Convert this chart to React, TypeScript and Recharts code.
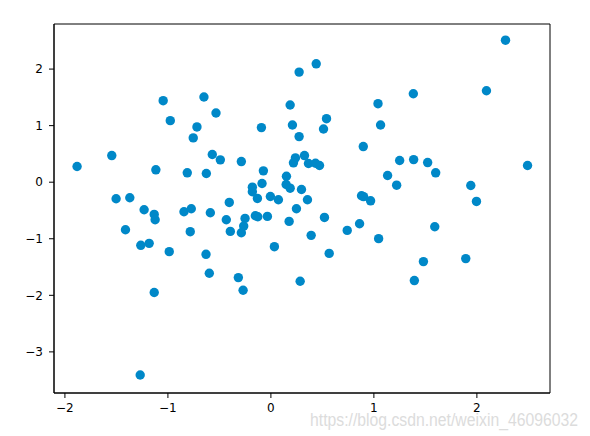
import { ScatterChart, Scatter, XAxis, YAxis, ReferenceArea } from 'recharts';

// values (x, y)
const xs = [
  -1.882, -1.545, -1.046, -0.65, -0.533, -0.977, -0.718, -0.754, -0.569, -0.491,
  -1.117, -0.812, -0.627, -1.503, -1.37, -1.231, -1.133, -1.124, -1.412, -0.844,
  -0.773, -0.588, -0.783, -1.263, -1.182, -0.987, -0.63, -0.598, -1.133, -1.269,
  0.44, 0.274, 0.187, 1.04, 1.065, -0.092, 0.209, 0.54, 0.511, 0.274,
  0.897, -0.287, -0.073, 0.238, 0.219, 0.326, 0.365, 0.433, 0.472, 0.151,
  -0.086, 0.148, 0.187, -0.18, -0.18, -0.131, -0.005, 0.073, 0.297, 0.355,
  0.88, 0.9, 0.968, -0.404, -0.433, -0.251, -0.264, -0.287, -0.394, -0.151,
  -0.127, -0.034, 0.248, 0.177, 0.52, 0.391, 0.741, 0.861, 1.046, 0.034,
  0.566, -0.316, -0.27, 0.284, 2.278, 2.093, 1.383, 1.25, 1.386, 1.522,
  1.6, 1.133, 1.221, 2.492, 1.941, 1.996, 1.591, 1.481, 1.892, 1.393,
];
const ys = [
  0.277, 0.471, 1.441, 1.506, 1.224, 1.088, 0.977, 0.783, 0.489, 0.395,
  0.219, 0.166, 0.153, -0.293, -0.275, -0.487, -0.57, -0.663, -0.84, -0.522,
  -0.469, -0.54, -0.875, -1.116, -1.081, -1.228, -1.275, -1.61, -1.951, -3.409,
  2.093, 1.947, 1.365, 1.388, 1.012, 0.965, 1.012, 1.123, 0.941, 0.806,
  0.63, 0.365, 0.201, 0.43, 0.342, 0.471, 0.33, 0.335, 0.295, 0.106,
  -0.023, -0.041, -0.106, -0.088, -0.169, -0.287, -0.252, -0.311, -0.129, -0.311,
  -0.24, -0.255, -0.329, -0.358, -0.663, -0.64, -0.776, -0.893, -0.87, -0.593,
  -0.611, -0.605, -0.47, -0.693, -0.623, -0.94, -0.852, -0.734, -0.998, -1.14,
  -1.258, -1.687, -1.91, -1.751, 2.511, 1.617, 1.564, 0.383, 0.4, 0.347,
  0.166, 0.118, -0.053, 0.295, -0.058, -0.34, -0.787, -1.404, -1.351, -1.739,
];
const xTicks = [-2, -1, 0, 1, 2];
const yTicks = [-3, -2, -1, 0, 1, 2];
const xDomain = [-2.106, 2.71];
const yDomain = [-3.727, 2.797];

const data = xs.map((x, i) => ({ x, y: ys[i] }));

const tickStyle = { fontSize: 12, fill: '#000', fontFamily: 'DejaVu Sans' };
const fmt = (v: any) => String(v).replace('-', '\u2212');

const Dot = (props: any) => <circle cx={props.cx} cy={props.cy} r={4.7} fill="#0088c8" />;

export default function App() {
  return (
    <div style={{ position: 'absolute', left: 0, top: 0, width: 590, height: 436, background: '#fff' }}>
      <ScatterChart width={590} height={436} margin={{ top: 24, right: 40, bottom: 0, left: 0 }}>
        <XAxis
          type="number"
          dataKey="x"
          domain={xDomain}
          ticks={xTicks}
          allowDataOverflow
          height={43}
          tickSize={5}
          tickMargin={5}
          tick={tickStyle}
          tickFormatter={fmt}
          stroke="#000"
        />
        <YAxis
          type="number"
          dataKey="y"
          domain={yDomain}
          ticks={yTicks}
          allowDataOverflow
          width={54}
          tickSize={5}
          tickMargin={6}
          tick={tickStyle}
          tickFormatter={fmt}
          stroke="#000"
        />
        <ReferenceArea
          x1={xDomain[0]}
          x2={xDomain[1]}
          y1={yDomain[0]}
          y2={yDomain[1]}
          fill="none"
          stroke="#000"
          strokeWidth={1}
          ifOverflow="visible"
        />
        <Scatter data={data} shape={Dot} isAnimationActive={false} />
      </ScatterChart>
      <svg width={590} height={436} style={{ position: 'absolute', left: 0, top: 0, pointerEvents: 'none' }}>
        <text
          x={310}
          y={426}
          fontSize={18}
          fontFamily="Liberation Sans"
          fill="#dcdcdc"
          textLength={268}
          lengthAdjust="spacingAndGlyphs"
        >
          https://blog.csdn.net/weixin_46096032
        </text>
      </svg>
    </div>
  );
}
